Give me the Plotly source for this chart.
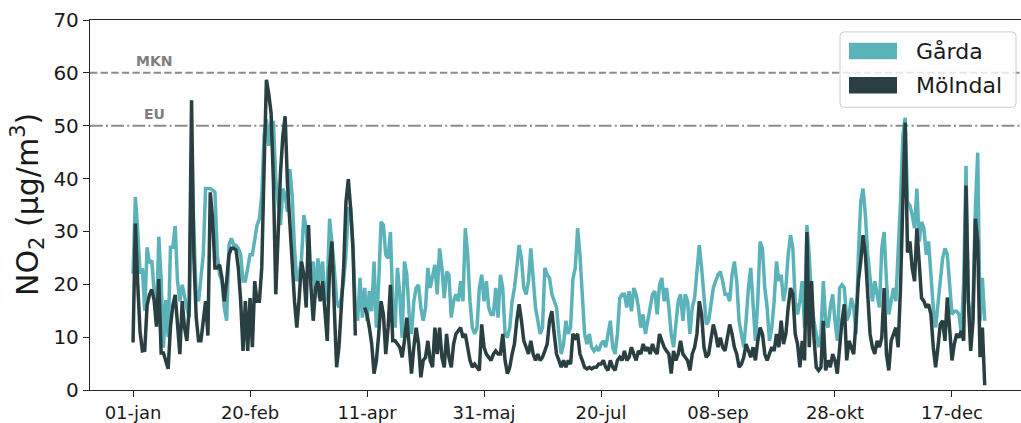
import pandas as pd
import plotly.graph_objects as go

# Daily NO2 means (µg/m3) for the two stations, 1 Jan - 31 Dec
dates = pd.date_range("2019-01-01", periods=365, freq="D")

garda = [
    22, 36.5, 30, 22, 23, 15, 27, 24, 24.5, 19,
    13, 29, 21, 8, 17, 10, 27, 27, 31, 20.6,
    16.8, 19.9, 17.4, 15.6, 13.7, 45, 30, 18, 16.8, 20.6,
    25.6, 38.1, 38.1, 38.1, 37.8, 37.4, 25.6, 21.8, 20.6, 15.6,
    13.1, 27.4, 28.7, 27.4, 27.4, 26.8, 25.6, 20.6, 20.6, 23.1,
    25.6, 25.6, 28.1, 31.2, 32.4, 36.8, 48.1, 51.2, 46.2, 50.6,
    50.6, 39.9, 35.6, 31.2, 38.1, 36.8, 33.7, 41.8, 36.8, 26.8,
    20.6, 21.8, 24.9, 33.1, 30.6, 24.3, 20.6, 24.3, 17.4, 24.9,
    20.6, 24.3, 16.8, 19.3, 32.4, 28.1, 23.1, 16.8, 15.6, 17.4,
    20.6, 25.6, 34.3, 34.3, 26.8, 15.6, 13.1, 21.2, 13.7, 19.3,
    13.1, 18.7, 14.9, 24.3, 11.8, 20.6, 31.8, 31.2, 25.6, 24.9,
    29.9, 16.2, 11.8, 23.1, 18.1, 9.9, 24.3, 21.8, 14.3, 10.6,
    16.8, 19.3, 19.9, 15.6, 13.1, 15.6, 23.1, 19.3, 21.8, 23.7,
    18.1, 26.8, 23.1, 17.4, 22.4, 21.8, 13.7, 16.8, 18.1, 16.8,
    20.6, 16.8, 30.6, 25.6, 16.8, 11.8, 10.6, 11.8, 19.3, 21.8,
    16.8, 20.6, 15.6, 14.3, 14.3, 19.3, 13.7, 21.8, 19.3, 10.6,
    9.9, 11.8, 16.8, 19.3, 23.1, 27.4, 24.9, 19.3, 18.1, 20.6,
    26.8, 21.8, 15.6, 13.1, 10.6, 11.8, 23.1, 21.8, 21.2, 18.1,
    16.8, 15.6, 10.6, 6.8, 8.7, 13.1, 10.6, 11.8, 21, 23.1,
    30.6, 25.6, 18.1, 10.6, 8.7, 10.6, 8.1, 7.4, 8.1, 7.4,
    8.7, 9.3, 8.1, 10.6, 13.1, 8.1, 6.8, 10.6, 17.4, 18.1,
    18.1, 15.6, 18.7, 14.9, 19.3, 18.1, 15.6, 11.8, 14.3, 10.6,
    13.1, 15.6, 18.1, 18.7, 14.3, 19.9, 21.2, 16.8, 19.3, 15.6,
    10.6, 8.1, 13.1, 16.8, 18.1, 13.1, 18.1, 16.8, 10.6, 15.6,
    17.4, 21.8, 27.4, 23.1, 16.8, 12.4, 13.1, 16.8, 19.3, 20.6,
    21.8, 22.4, 20.6, 18.1, 18.1, 16.8, 21.8, 24.3, 20.6, 13.1,
    10.6, 8.1, 13.1, 19.3, 23.1, 16.8, 9.3, 16.8, 28.1, 26.8,
    19.3, 15.6, 9.3, 11.8, 16.8, 24.3, 20.6, 21.8, 16.8, 19.3,
    25.6, 29.3, 26.8, 16.8, 14.3, 16.8, 20.6, 11.8, 31.2, 25.6,
    16.8, 13.1, 10.6, 8.1, 10.6, 20.6, 13.1, 11.8, 15.6, 18.1,
    13.1, 9.3, 19.3, 19.9, 19.3, 13.1, 14.3, 17.4, 15.6, 10.6,
    25.6, 35.6, 38.1, 33.1, 25.6, 20.6, 16.8, 20.6, 18.1, 15.6,
    26.8, 29.9, 20.6, 14.3, 16.8, 19.3, 16.8, 25.6, 35.6, 48.1,
    51.5, 35.6, 34.9, 33.1, 30.6, 38.1, 28.1, 31.8, 30.6, 25.6,
    28.1, 21.8, 15.6, 11.8, 15.6, 20.6, 24.9, 26.8, 25.6, 20.6,
    14.3, 14.9, 14.9, 14.3, 10.6, 20.6, 42.4, 16.8, 11.8, 16.8,
    34.3, 44.9, 13.1, 21.2, 13.1,
]

molndal = [
    9, 31.5, 20, 11, 7.4, 7.5, 16, 18, 19, 17,
    12, 21, 7, 7, 5.5, 4, 12, 16, 18, 13.1,
    6.8, 16.8, 11.8, 9.3, 15.6, 54.8, 25, 13.7, 9.3, 9.3,
    13.7, 16.8, 10.3, 37.4, 32.4, 23.1, 23.1, 23.7, 21.2, 16.8,
    20.6, 25.6, 26.8, 26.8, 26.5, 23.1, 16.8, 7.4, 16.8, 7.4,
    17.4, 8.1, 20.6, 16.8, 16.8, 23.1, 41.8, 58.7, 56, 52.4,
    39.3, 18.1, 29.3, 41, 48, 51.8, 39, 30, 24.3, 16.8,
    11.8, 17.4, 24.3, 21.8, 15.6, 31.2, 19.9, 13.1, 19.3, 20.6,
    16.8, 20.6, 13.7, 9.3, 23.1, 28.1, 15.6, 4.3, 8.1, 16.8,
    23.1, 35.6, 39.9, 34.3, 26.8, 10.3, None, None, None, 15.6,
    14.3, 11.8, 8.7, 3.1, 5.6, 10.6, 16.8, 14.3, 6.8, 11.8,
    19.9, 9.3, 9.3, 8.7, 8.1, 6.2, 9.3, 13.7, 7.4, 3.1,
    8.1, 11.8, 8.7, 2.4, 5.6, 6.2, 9.3, 5.6, 4.3, 11.8,
    6.8, 11.8, 6.2, 4.3, 10.6, 6.2, 4.3, 8.7, 10.6, 11.2,
    11.8, 9.9, 10.6, 8.1, 5.6, 4.3, 4.9, 4.3, 3.7, 12.4,
    8.1, 6.8, 6.2, 5.6, 6.8, 7.4, 6.8, 6.8, 10.6, 5.6,
    3.1, 4.3, 6.8, 8.7, 13.1, 16.2, 13.1, 9.3, 8.1, 6.8,
    9.3, 6.8, 5.6, 6.8, 5.6, 6.2, 7.4, 8.7, 13.1, 14.9,
    10.6, 6.8, 5.6, 4.3, 5.6, 4.3, 5.6, 4.9, 10.6, 9.9,
    10.6, 6.8, 5.6, 4.3, 4.0, 4.3, 4.0, 4.3, 4.3, 4.9,
    4.9, 5.6, 4.3, 3.7, 5.6, 4.3, 3.7, 5.6, 6.2, 5.6,
    7.4, 5.6, 6.2, 8.1, 6.8, 5.6, 7.4, 6.8, 8.7, 7.4,
    8.1, 6.8, 8.7, 7.4, 6.8, 10.6, 9.3, 8.1, 7.4, 6.8,
    3.1, 7.4, 5.6, 6.8, 9.3, 6.8, 6.2, 5.6, 3.7, 6.8,
    8.1, 10.6, 16.8, 14.3, 8.1, 6.2, 6.8, 9.3, 12.4, 10.6,
    8.1, 9.9, 8.1, 7.4, 9.9, 12.4, 10.6, 8.1, 6.8, 4.3,
    4.9, 6.2, 8.7, 7.4, 6.2, 8.1, 5.6, 9.3, 11.8, 10.6,
    6.8, 5.6, 6.8, 8.1, 7.4, 10.6, 8.1, 13.1, 8.7, 10.6,
    15.6, 19.3, 18.1, 10.6, 8.7, 4.3, 9.3, 5.6, 29.9, 8.1,
    20.6, 9.9, 4.3, 3.7, 4.3, 13.1, 3.7, 5.6, 4.3, 6.8,
    5.6, 3.1, 8.1, 13.1, 16.2, 5.6, 9.3, 8.1, 6.8, 13.1,
    20.6, 24.3, 29.3, 25.6, 18.1, 10.6, 8.1, 6.8, 9.3, 8.1,
    9.9, 19.3, 6.8, 3.7, 9.3, 10.6, 11.8, 8.1, 19.3, 35.6,
    50.6, 26, 28.1, 23.1, 20.6, 30.6, 23.1, 17.4, 16.8, 15.6,
    16.2, 14.3, 8.1, 4.3, 8.1, 12.4, 13.1, 9.3, 17.5, 11.8,
    5.6, 8.7, 10.6, 9.9, 11.2, 9.3, 38.7, 16.8, 7.4, 13.1,
    32.4, 28.1, 6.2, 11.8, 0.9,
]

series_names = ["Gårda", "Mölndal"]
series_colors = ["#5BB3B9", "#2A3F41"]

tick_dates = pd.date_range("2019-01-01", periods=8, freq="50D")
tick_labels = ["01-jan", "20-feb", "11-apr", "31-maj", "20-jul", "08-sep", "28-okt", "17-dec"]

limit_values = [60, 50]
limit_names = ["MKN", "EU"]
limit_dash = ["7.4px,3.2px", "12.8px,3.2px,2px,3.2px"]

FONT = "DejaVu Sans"
GREY = "#8C8C8C"

fig = go.Figure()
for name, vals, col in zip(series_names, [garda, molndal], series_colors):
    fig.add_trace(go.Scatter(
        x=dates, y=vals, name=name, mode="lines",
        line=dict(color=col, width=3.5), connectgaps=False, showlegend=False,
    ))

# Threshold lines with their labels
for val, lab, dash in zip(limit_values, limit_names, limit_dash):
    fig.add_shape(type="line", xref="paper", x0=0, x1=1, yref="y", y0=val, y1=val,
                  line=dict(color=GREY, width=2, dash=dash), layer="below")
    fig.add_annotation(x=dates[9], y=val, xref="x", yref="y", text=f"<b>{lab}</b>",
                       showarrow=False, yanchor="bottom", yshift=2,
                       font=dict(family=FONT, size=14, color="#7F7F7F"))

# Plot-area geometry in pixels (used to place the legend box)
W, H = 1021, 423
L, R, T, B = 90, 0, 20, 30
pw, ph = W - L - R, H - T - B


def px(xp):
    return (xp - L) / pw


def py(yp):
    return (H - B - yp) / ph


# Legend box with rounded corners
x0, x1, y0, y1 = px(840), px(1016), py(108), py(32)
rx, ry = 4 / pw, 4 / ph
path = (f"M {x0+rx},{y0} L {x1-rx},{y0} Q {x1},{y0} {x1},{y0+ry} "
        f"L {x1},{y1-ry} Q {x1},{y1} {x1-rx},{y1} L {x0+rx},{y1} "
        f"Q {x0},{y1} {x0},{y1-ry} L {x0},{y0+ry} Q {x0},{y0} {x0+rx},{y0} Z")
fig.add_shape(type="path", xref="paper", yref="paper", path=path,
              fillcolor="rgba(255,255,255,0.8)", line=dict(color="#CCCCCC", width=1),
              layer="above")
for i, (name, col) in enumerate(zip(series_names, series_colors)):
    top = 43 + i * 34.5
    fig.add_shape(type="rect", xref="paper", yref="paper",
                  x0=px(849), x1=px(897), y0=py(top + 16.5), y1=py(top),
                  fillcolor=col, line=dict(width=0), layer="above")
    fig.add_annotation(xref="paper", yref="paper", x=px(914), y=py(top + 8.5),
                       text=name, showarrow=False, xanchor="left", yanchor="middle",
                       font=dict(family=FONT, size=22, color="#1A1A1A"))

# Y-axis title
fig.add_annotation(xref="paper", yref="paper", x=0, y=0.5, xshift=-63,
                   text="NO<sub>2</sub> (µg/m<sup>3</sup>)", textangle=-90,
                   showarrow=False, xanchor="center", yanchor="middle",
                   font=dict(family=FONT, size=30, color="#1A1A1A"))

start = dates[0]
fig.update_layout(
    width=W, height=H,
    margin=dict(l=L, r=R, t=T, b=B),
    paper_bgcolor="white", plot_bgcolor="white",
    font=dict(family=FONT, color="#1A1A1A"),
    xaxis=dict(
        range=[start - pd.Timedelta(days=18.4), start + pd.Timedelta(days=379.5)],
        tickmode="array", tickvals=tick_dates, ticktext=tick_labels,
        ticks="outside", ticklen=6, tickwidth=1.2, tickcolor="#262626",
        showline=True, linecolor="#262626", linewidth=1.3, mirror=True,
        showgrid=False, zeroline=False, tickfont=dict(size=18),
    ),
    yaxis=dict(
        range=[0, 70], tickmode="array", tickvals=list(range(0, 71, 10)),
        ticks="outside", ticklen=6, tickwidth=1.2, tickcolor="#262626",
        showline=True, linecolor="#262626", linewidth=1.3,
        showgrid=False, zeroline=False, tickfont=dict(size=20),
    ),
)

fig.write_html("out.html")
